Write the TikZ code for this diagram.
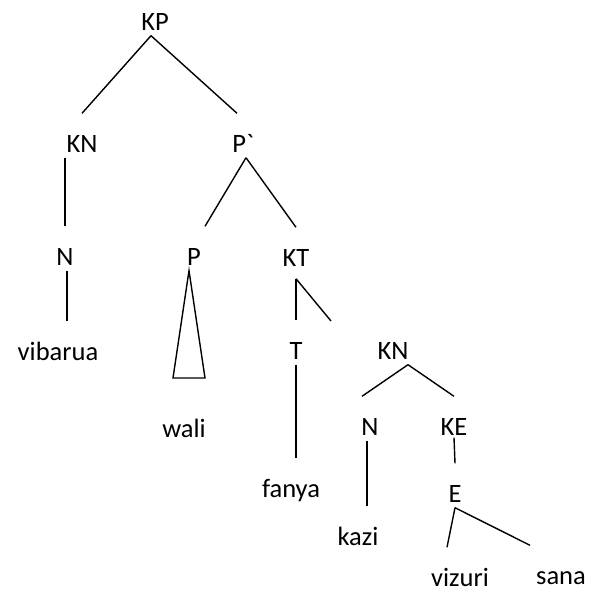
\documentclass[tikz,border=0pt]{standalone}
\usepackage{fontspec}
\setmainfont{Carlito}
\begin{document}
\begin{tikzpicture}[x=1pt, y=-1pt, line width=1.4pt,
    every node/.style={anchor=base, inner sep=0pt, text height=38pt, text depth=5pt,
      font=\fontsize{26.5pt}{30pt}\selectfont}]
          \useasboundingbox (0, 0) rectangle (590, 592);

          \node (kp) at (155, 30) {KP};

          \node (kn) at (82, 152) {KN};
          \node (pbar) at (243, 152) {P\textasciigrave};

          \node (n) at (65, 265) {N};
          \node (p) at (194, 265) {P};
          \node (kt) at (296, 266) {KT};

          \node (vibarua) at (58, 360) {vibarua};
          \node (t) at (296, 359) {T};
          \node (kntwo) at (393, 359) {KN};

          \node (wali) at (184, 437) {wali};
          \node (ntwo) at (370, 435) {N};
          \node (ke) at (454, 435) {KE};

          \node (fanya) at (291, 497) {fanya};
          \node (e) at (455, 502) {E};
          \node (kazi) at (358, 545) {kazi};

          \node[text depth=0pt] (vizuri) at (460, 586) {vizuri};
          \node[text depth=0pt] (sana) at (561, 584) {sana};

          \coordinate (walil) at (173, 378);
          \coordinate (walir) at (205, 378);
          \coordinate (ktend) at (331, 321);

          \draw ([xshift=-4pt]kp.south) to (kn.north);
          \draw ([xshift=-4pt]kp.south) to ([xshift=-6pt]pbar.north);

          \draw (kn.south -| n.north) to (n.north);
          \draw ([xshift=2pt]n.south) to ([xshift=2pt]n.south |- vibarua.north);

          \draw ([xshift=3pt]pbar.south) to ([xshift=11pt]p.north);
          \draw ([xshift=3pt]pbar.south) to (kt.north);

          \draw ([xshift=-5pt]p.south) -- (walil) -- (walir) -- cycle;

          \draw ([yshift=-7pt]kt.south) to (t.north);
          \draw ([yshift=-7pt]kt.south) to (ktend);
          \draw (t.south) to (t.south |- fanya.north);

          \draw ([xshift=15pt]kntwo.south) to ([xshift=-8pt]ntwo.north);
          \draw ([xshift=15pt]kntwo.south) to (ke.north);
          \draw ([xshift=-3pt]ntwo.south) to ([xshift=-3pt]ntwo.south |- kazi.north);

          \draw ([yshift=3pt]ke.south) to (e.north);
          \draw (e.south) to ([xshift=-13pt]vizuri.north);
          \draw (e.south) to ([xshift=-31pt]sana.north);
        \end{tikzpicture}
\end{document}
